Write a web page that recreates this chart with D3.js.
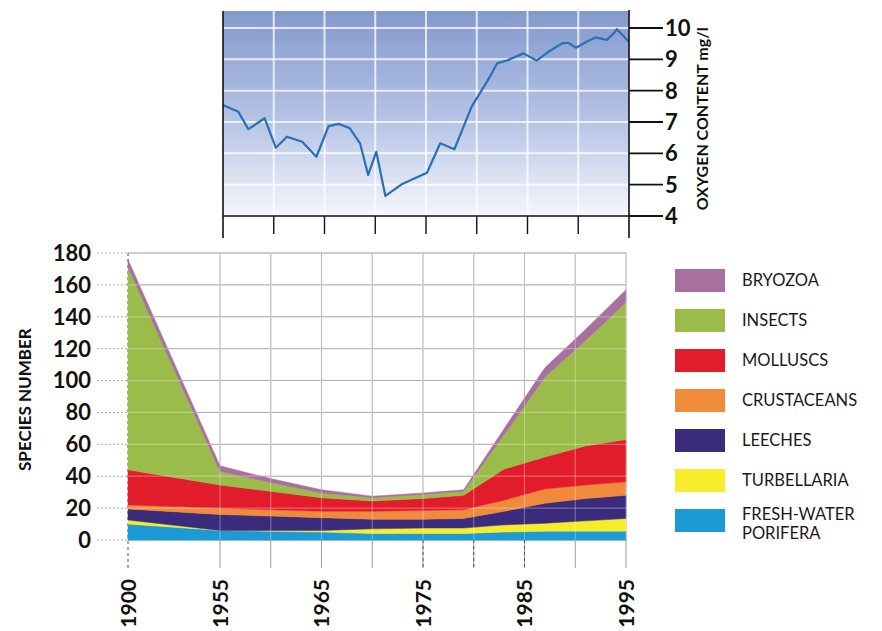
<!DOCTYPE html>
<html>
<head>
<meta charset="utf-8">
<script src="https://cdn.jsdelivr.net/npm/d3@7"></script>
<style>
    body { margin: 0; background: #fff; }
    svg { display: block; font-family: Lato, 'Open Sans', sans-serif; }
</style>
</head>
<body>
<svg id="chart" width="882" height="631"></svg>
<script>
/**
 * Data.
 */
const years = [1900, 1955, 1960, 1965, 1970, 1975, 1979, 1983, 1987, 1991, 1995];

const porifera    = [10, 6, 5.5, 5, 4, 4, 4, 5, 5.5, 5.5, 5.5];
const turbellaria = [2.5, 0, 0.5, 1, 3, 3.5, 3.5, 4.5, 5, 6.5, 8];
const leeches     = [7, 10, 9, 8, 6, 5.5, 6, 8.5, 12.5, 14, 14.5];
const crustaceans = [2.5, 4, 4, 4, 5, 5.5, 5.5, 7, 9, 8.5, 8.5];
const molluscs    = [22, 14.5, 11.5, 8.5, 6.5, 7.5, 9, 19.5, 20, 24.5, 26.5];
const insects     = [127, 8.5, 5.5, 3, 2, 2.5, 2.5, 21.5, 50, 66, 86];
const bryozoa     = [5, 3.5, 2.5, 2, 1, 1, 1, 4, 6, 7, 8];

const groupKeys   = ['porifera', 'turbellaria', 'leeches', 'crustaceans', 'molluscs', 'insects', 'bryozoa'];
const groupLabels = ['FRESH-WATER PORIFERA', 'TURBELLARIA', 'LEECHES', 'CRUSTACEANS', 'MOLLUSCS', 'INSECTS', 'BRYOZOA'];
const groupColors = ['#1b9ad6', '#f6ec2a', '#3a2b7c', '#f08a3c', '#e31c2c', '#9bbc4a', '#a8709f'];

const oxyYears  = [1955, 1956.5, 1957.5, 1959.1, 1960.2, 1961.3, 1962.8, 1964.2, 1965.4, 1966.4, 1967.5,
                   1968.5, 1969.3, 1970.1, 1971, 1972.6, 1975.1, 1976.4, 1977.8, 1979.5, 1981.2, 1982,
                   1983.1, 1984.6, 1985.9, 1987.1, 1988.4, 1989, 1989.8, 1990.8, 1991.7, 1992.8, 1993.5,
                   1993.8, 1995];
const oxyValues = [7.54, 7.33, 6.77, 7.12, 6.18, 6.53, 6.37, 5.89, 6.87, 6.94, 6.8,
                   6.32, 5.31, 6.05, 4.64, 5.01, 5.38, 6.32, 6.13, 7.49, 8.39, 8.87,
                   8.98, 9.19, 8.96, 9.25, 9.51, 9.53, 9.37, 9.56, 9.7, 9.62, 9.83,
                   9.96, 9.56];

const yearLabels   = [1900, 1955, 1965, 1975, 1985, 1995];
const gridYears    = [1955, 1960, 1965, 1970, 1975, 1980, 1985, 1990, 1995];
const dashedYears  = [1900, 1975, 1980, 1985];
const speciesTicks = [0, 20, 40, 60, 80, 100, 120, 140, 160, 180];
const oxyTicks     = [4, 5, 6, 7, 8, 9, 10];

/**
 * Layout.
 */
const svg = d3.select('#chart');

const topBox = { left: 223, right: 629, top: 11, bottom: 216 };
const botBox = { left: 128, right: 626, top: 253, bottom: 540 };

const xTop = d3.scaleLinear().domain([1955, 1995]).range([topBox.left, topBox.right]);
const yTop = d3.scaleLinear().domain([4, 10]).range([topBox.bottom, 28]);

// the 1900 column sits close to 1955, so the axis is broken there
const xBot = d3.scaleLinear().domain([1900, 1955, 1995]).range([botBox.left, 220, botBox.right]);
const yBot = d3.scaleLinear().domain([0, 180]).range([botBox.bottom, botBox.top]);

/**
 * Top chart: oxygen content.
 */
const defs = svg.append('defs');
const grad = defs.append('linearGradient').attr('id', 'oxyBg')
    .attr('x1', 0).attr('y1', 0).attr('x2', 0).attr('y2', 1);
grad.append('stop').attr('offset', '0%').attr('stop-color', '#8399cd');
grad.append('stop').attr('offset', '55%').attr('stop-color', '#b7c5e6');
grad.append('stop').attr('offset', '100%').attr('stop-color', '#f5f7fc');

const topG = svg.append('g').attr('class', 'oxygen');

topG.append('rect')
    .attr('x', topBox.left).attr('y', topBox.top)
    .attr('width', topBox.right - topBox.left).attr('height', topBox.bottom - topBox.top)
    .attr('fill', 'url(#oxyBg)');

// white grid
topG.append('g').selectAll('line').data(oxyTicks.slice(1)).join('line')
    .attr('x1', topBox.left).attr('x2', topBox.right)
    .attr('y1', d => yTop(d)).attr('y2', d => yTop(d))
    .attr('stroke', '#fff').attr('stroke-opacity', 0.75).attr('stroke-width', 2);
topG.append('g').selectAll('line').data(gridYears.slice(1, -1)).join('line')
    .attr('x1', d => xTop(d)).attr('x2', d => xTop(d))
    .attr('y1', topBox.top).attr('y2', topBox.bottom)
    .attr('stroke', '#fff').attr('stroke-opacity', 0.75).attr('stroke-width', 2);

// oxygen line
const oxyLine = d3.line().x(d => xTop(d[0])).y(d => yTop(d[1]));
topG.append('path')
    .datum(oxyYears.map((yr, i) => [yr, oxyValues[i]]))
    .attr('d', oxyLine)
    .attr('fill', 'none')
    .attr('stroke', '#2b6fb6')
    .attr('stroke-width', 2.2)
    .attr('stroke-linejoin', 'round');

// frame and ticks
topG.append('line').attr('x1', topBox.left).attr('x2', topBox.left).attr('y1', topBox.top).attr('y2', 238)
    .attr('stroke', '#111').attr('stroke-width', 1.6);
topG.append('line').attr('x1', topBox.right).attr('x2', topBox.right).attr('y1', topBox.top - 1).attr('y2', 238)
    .attr('stroke', '#111').attr('stroke-width', 1.6);
topG.append('line').attr('x1', topBox.left).attr('x2', topBox.right).attr('y1', topBox.bottom).attr('y2', topBox.bottom)
    .attr('stroke', '#111').attr('stroke-width', 1.6);
topG.append('g').selectAll('line').data(gridYears.slice(1, -1)).join('line')
    .attr('x1', d => xTop(d)).attr('x2', d => xTop(d))
    .attr('y1', topBox.bottom).attr('y2', 234)
    .attr('stroke', '#111').attr('stroke-width', 1.4);

const rightTicks = topG.append('g').selectAll('g').data(oxyTicks).join('g')
    .attr('transform', d => 'translate(' + topBox.right + ',' + yTop(d) + ')');
rightTicks.append('line').attr('x1', 0).attr('x2', 34)
    .attr('stroke', '#111').attr('stroke-width', 1.8);
rightTicks.append('text')
    .attr('x', 36).attr('dy', '0.36em')
    .attr('font-size', 22).attr('font-weight', 700).attr('fill', '#111')
    .text(d => d);

topG.append('text')
    .attr('transform', 'translate(708,' + yTop(7.1) + ') rotate(-90)')
    .attr('text-anchor', 'middle')
    .attr('font-size', 16).attr('font-weight', 700).attr('fill', '#111')
    .text('OXYGEN CONTENT mg/l');

/**
 * Bottom chart: species number.
 */
const botG = svg.append('g').attr('class', 'species');

// grey grid under the areas
botG.append('g').selectAll('line').data(speciesTicks).join('line')
    .attr('x1', botBox.left).attr('x2', botBox.right)
    .attr('y1', d => yBot(d)).attr('y2', d => yBot(d))
    .attr('stroke', '#8a8a8a').attr('stroke-width', 1);
botG.append('g').selectAll('line').data(speciesTicks).join('line')
    .attr('x1', 97).attr('x2', botBox.left)
    .attr('y1', d => yBot(d)).attr('y2', d => yBot(d))
    .attr('stroke', '#aaa').attr('stroke-width', 1).attr('stroke-dasharray', '2,2');
botG.append('g').selectAll('line').data(gridYears).join('line')
    .attr('x1', d => xBot(d)).attr('x2', d => xBot(d))
    .attr('y1', botBox.top).attr('y2', 568)
    .attr('stroke', '#9a9a9a').attr('stroke-width', 1);
botG.append('g').selectAll('line').data(dashedYears).join('line')
    .attr('x1', d => xBot(d)).attr('x2', d => xBot(d))
    .attr('y1', d => d === 1900 ? botBox.top : botBox.bottom).attr('y2', 570)
    .attr('stroke', '#555').attr('stroke-width', 1).attr('stroke-dasharray', '3,3');

// stacked areas
const values = { porifera, turbellaria, leeches, crustaceans, molluscs, insects, bryozoa };
const table = years.map((yr, i) => {
    const row = { year: yr };
    groupKeys.forEach(k => row[k] = values[k][i]);
    return row;
});
const stacked = d3.stack().keys(groupKeys)(table);

const area = d3.area()
    .x(d => xBot(d.data.year))
    .y0(d => yBot(d[0]))
    .y1(d => yBot(d[1]));

botG.append('g').selectAll('path').data(stacked).join('path')
    .attr('d', area)
    .attr('fill', (d, i) => groupColors[i])
    .attr('stroke', (d, i) => groupColors[i])
    .attr('stroke-width', 0.5)
    .attr('stroke-linejoin', 'round');

// grid shows through the colours as lighter lines
botG.append('g').selectAll('line').data(speciesTicks.slice(1)).join('line')
    .attr('x1', botBox.left).attr('x2', botBox.right)
    .attr('y1', d => yBot(d)).attr('y2', d => yBot(d))
    .attr('stroke', '#fff').attr('stroke-opacity', 0.3).attr('stroke-width', 1.2);
botG.append('g').selectAll('line').data(gridYears).join('line')
    .attr('x1', d => xBot(d)).attr('x2', d => xBot(d))
    .attr('y1', botBox.top).attr('y2', botBox.bottom)
    .attr('stroke', '#fff').attr('stroke-opacity', 0.3).attr('stroke-width', 1.2);

// axis labels
botG.append('g').selectAll('text').data(speciesTicks).join('text')
    .attr('x', 91).attr('y', d => yBot(d)).attr('dy', '0.36em')
    .attr('text-anchor', 'end')
    .attr('font-size', 22).attr('font-weight', 700).attr('fill', '#111')
    .text(d => d);

botG.append('text')
    .attr('transform', 'translate(25,' + yBot(88) + ') rotate(-90)')
    .attr('dy', '0.36em')
    .attr('text-anchor', 'middle')
    .attr('font-size', 17).attr('font-weight', 700).attr('fill', '#111')
    .text('SPECIES NUMBER');

botG.append('g').selectAll('text').data(yearLabels).join('text')
    .attr('transform', d => 'translate(' + xBot(d) + ',579) rotate(-90)')
    .attr('dy', '0.36em')
    .attr('text-anchor', 'end')
    .attr('font-size', 21).attr('font-weight', 700).attr('fill', '#111')
    .text(d => d);

/**
 * Legend, top to bottom.
 */
const legend = svg.append('g').attr('class', 'legend')
    .selectAll('g').data(groupKeys.slice().reverse()).join('g')
    .attr('transform', (d, i) => 'translate(675,' + (269 + i * 40) + ')');

legend.append('rect')
    .attr('width', 50).attr('height', 23)
    .attr('fill', d => groupColors[groupKeys.indexOf(d)]);

legend.append('text')
    .attr('x', 67)
    .attr('font-size', 16.5).attr('fill', '#1a1a1a')
    .each(function(d) {
        const words = groupLabels[groupKeys.indexOf(d)].split(' ');
        const t = d3.select(this);
        const y0 = words.length > 1 ? 5 : 11.5;
        words.forEach((w, j) => {
            t.append('tspan').attr('x', 67).attr('y', y0 + j * 19).attr('dy', '0.36em').text(w);
        });
    });
</script>
</body>
</html>
